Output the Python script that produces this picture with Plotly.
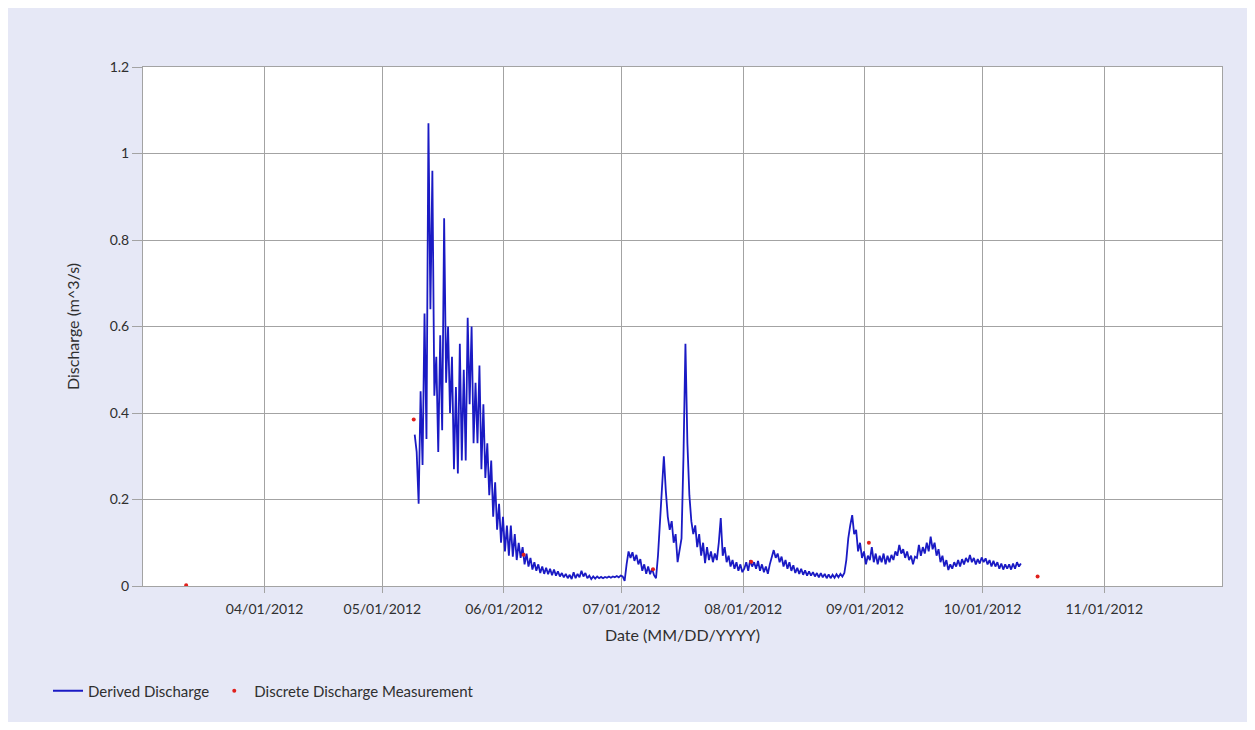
import pandas as pd
import plotly.graph_objects as go

# ---------------- data ----------------
derived_start = "2012-05-09 06:00"
derived_step = "12h"
derived_values = [
    # May 9 - May 31
    0.35, 0.31, 0.19, 0.45, 0.28, 0.63, 0.34, 1.07, 0.64, 0.96,
    0.44, 0.53, 0.31, 0.58, 0.36, 0.85, 0.47, 0.60, 0.40, 0.53,
    0.27, 0.46, 0.26, 0.56, 0.29, 0.50, 0.29, 0.62, 0.42, 0.60,
    0.33, 0.47, 0.33, 0.51, 0.27, 0.42, 0.25, 0.33, 0.21, 0.29,
    0.16, 0.24, 0.13, 0.19, 0.10, 0.16,
    # June
    0.08, 0.14, 0.07, 0.14, 0.068, 0.12, 0.06, 0.10, 0.065, 0.09,
    0.05, 0.075, 0.045, 0.065, 0.038, 0.055, 0.035, 0.05, 0.03, 0.045,
    0.028, 0.042, 0.027, 0.04, 0.025, 0.038, 0.024, 0.034, 0.022, 0.03,
    0.02, 0.028, 0.018, 0.026, 0.016, 0.032, 0.018, 0.028, 0.02, 0.035,
    0.022, 0.03, 0.018, 0.024, 0.016, 0.022, 0.017, 0.022, 0.018, 0.021,
    0.018, 0.021, 0.019, 0.022, 0.019, 0.022, 0.02, 0.023, 0.02, 0.024,
    # July
    0.022, 0.012, 0.05, 0.08, 0.065, 0.078, 0.058, 0.072, 0.05, 0.062,
    0.035, 0.05, 0.028, 0.045, 0.027, 0.04, 0.025, 0.018, 0.07, 0.145,
    0.24, 0.30, 0.22, 0.16, 0.13, 0.15, 0.10, 0.12, 0.055, 0.08,
    0.11, 0.30, 0.56, 0.33, 0.21, 0.15, 0.12, 0.14, 0.09, 0.12,
    0.07, 0.10, 0.053, 0.09, 0.06, 0.08, 0.055, 0.075, 0.06, 0.10,
    0.157, 0.07, 0.09, 0.055, 0.07, 0.045, 0.06, 0.04, 0.055, 0.035,
    0.05, 0.032,
    # August
    0.04, 0.055, 0.035, 0.06, 0.045, 0.055, 0.04, 0.058, 0.035, 0.05,
    0.032, 0.045, 0.028, 0.05, 0.07, 0.083, 0.065, 0.075, 0.055, 0.068,
    0.045, 0.06, 0.04, 0.055, 0.035, 0.048, 0.03, 0.042, 0.028, 0.04,
    0.026, 0.036, 0.024, 0.034, 0.024, 0.032, 0.022, 0.03, 0.02, 0.03,
    0.02, 0.028, 0.018, 0.027, 0.018, 0.026, 0.019, 0.027, 0.02, 0.028,
    0.022, 0.03, 0.06, 0.11, 0.14, 0.164, 0.12, 0.13, 0.08, 0.10,
    0.065, 0.08,
    # September
    0.05, 0.07, 0.06, 0.09, 0.055, 0.075, 0.05, 0.07, 0.055, 0.075,
    0.05, 0.07, 0.055, 0.072, 0.06, 0.08, 0.07, 0.095, 0.075, 0.085,
    0.065, 0.08, 0.06, 0.07, 0.05, 0.068, 0.065, 0.095, 0.07, 0.09,
    0.075, 0.10, 0.08, 0.114, 0.085, 0.10, 0.07, 0.085, 0.055, 0.07,
    0.045, 0.06, 0.037, 0.05, 0.04, 0.055, 0.045, 0.06, 0.045, 0.062,
    0.05, 0.065, 0.055, 0.072, 0.055, 0.065, 0.05, 0.062, 0.052, 0.066,
    # October 1 - 10
    0.055, 0.064, 0.05, 0.06, 0.045, 0.058, 0.045, 0.055, 0.04, 0.052,
    0.038, 0.05, 0.04, 0.05, 0.038, 0.052, 0.04, 0.055, 0.045, 0.052,
]

discrete_dates = ["2012-03-12", "2012-05-09", "2012-06-06", "2012-07-09",
                  "2012-08-03", "2012-09-02", "2012-10-15"]
discrete_values = [0.002, 0.385, 0.072, 0.039, 0.056, 0.100, 0.022]

tick_dates = ["2012-04-01", "2012-05-01", "2012-06-01", "2012-07-01",
              "2012-08-01", "2012-09-01", "2012-10-01", "2012-11-01"]
tick_labels = ["04/01/2012", "05/01/2012", "06/01/2012", "07/01/2012",
               "08/01/2012", "09/01/2012", "10/01/2012", "11/01/2012"]
x_range = ["2012-03-01", "2012-12-01"]
y_ticks = [0, 0.2, 0.4, 0.6, 0.8, 1, 1.2]

derived_dates = pd.date_range(derived_start, periods=len(derived_values), freq=derived_step)

# ---------------- figure ----------------
FONT = "Lato, 'Open Sans', sans-serif"
TXT = "#2f2f2f"
GRID = "#a3a3a3"

fig = go.Figure()
fig.add_trace(go.Scatter(
    x=derived_dates, y=derived_values, mode="lines",
    name="Derived Discharge",
    line=dict(color="#1a1ac4", width=1.8),
))
fig.add_trace(go.Scatter(
    x=pd.to_datetime(discrete_dates), y=discrete_values, mode="markers",
    name="Discrete Discharge Measurement",
    marker=dict(color="#e0201c", size=4),
))

# page has an 8px body margin; figure is placed inside it
OFF = 8
W, H = 1240, 714
L, R, T, B = 143 - OFF, W - (1222 - OFF), 67 - OFF, H - (586 - OFF)
pw, ph = W - L - R, H - T - B


def px_x(p):  # page pixel -> paper fraction
    return (p - OFF - L) / pw


def px_y(p):
    return (H - B - (p - OFF)) / ph


fig.update_layout(
    width=W, height=H,
    margin=dict(l=L, r=R, t=T, b=B),
    paper_bgcolor="#e6e8f6",
    plot_bgcolor="white",
    font=dict(family=FONT, size=14, color=TXT),
    showlegend=True,
    legend=dict(orientation="h", x=px_x(48), y=px_y(691), xanchor="left", yanchor="middle",
                font=dict(family=FONT, size=15, color=TXT),
                bgcolor="rgba(0,0,0,0)", itemwidth=30),
    xaxis=dict(
        range=x_range, type="date",
        tickmode="array", tickvals=tick_dates, ticktext=tick_labels,
        showgrid=True, gridcolor=GRID, gridwidth=1,
        showline=True, linecolor=GRID, linewidth=1, mirror=True,
        ticks="outside", ticklen=6, tickcolor=GRID,
        ticklabelstandoff=4,
        tickfont=dict(family=FONT, size=14, color=TXT),
        title=dict(text="Date (MM/DD/YYYY)", standoff=14,
                   font=dict(family=FONT, size=16, color=TXT)),
        zeroline=False,
    ),
    yaxis=dict(
        range=[0, 1.2], tickmode="array", tickvals=y_ticks,
        showgrid=True, gridcolor=GRID, gridwidth=1,
        showline=True, linecolor=GRID, linewidth=1, mirror=True,
        ticks="outside", ticklen=10, tickcolor=GRID,
        tickfont=dict(family=FONT, size=14, color=TXT),
        title=dict(text="Discharge (m^3/s)", standoff=26,
                   font=dict(family=FONT, size=16, color=TXT)),
        zeroline=False,
    ),
)

fig.write_html("out.html")
